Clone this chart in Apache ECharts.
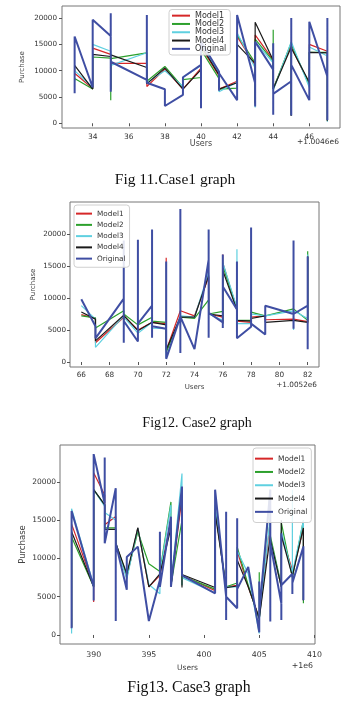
<!DOCTYPE html>
<html>
<head>
<meta charset="utf-8">
<script src="https://cdn.jsdelivr.net/npm/echarts@6/dist/echarts.min.js"></script>
<style>
  html, body { margin: 0; padding: 0; background: #fff; }
  #main { width: 353px; height: 702px; }
</style>
</head>
<body>
<div id="main"></div>
<script>
// Case 1 (users offset +1.0046e6)
const case1Users = [33, 33, 34, 34, 35, 35, 35, 35, 37, 37, 37, 38, 38, 39, 39, 40, 40, 40, 41, 41, 41, 42, 42, 43, 43, 43, 44, 44, 44, 44, 45, 45, 45, 45, 46, 46, 47, 47, 47];
const case1Original = [5700, 16500, 6800, 19700, 16600, 20900, 6000, 11700, 8250, 20600, 7700, 6470, 3280, 5400, 8760, 11100, 2860, 15500, 9800, 6200, 9500, 4400, 20600, 7600, 3170, 15500, 10200, 15200, 1600, 5600, 8000, 20000, 1500, 11100, 4400, 19300, 8900, 20000, 600];
const case1Model1 = [9000, 9500, 6600, 14300, 13100, 12000, 6200, 11400, 11400, 11400, 7000, 10300, 10300, 6500, 6500, 10500, 3000, 14500, 9000, 6500, 6700, 8000, 16500, 11000, 3500, 16800, 12000, 12000, 6500, 6500, 15000, 15000, 1400, 14500, 7500, 15000, 13700, 13700, 400];
const case1Model2 = [8000, 8500, 6500, 12600, 12400, 12000, 4400, 12300, 13400, 13400, 8000, 10800, 10800, 6800, 8300, 8700, 3000, 14000, 8500, 6500, 6600, 6700, 16800, 11500, 3500, 16000, 11800, 17800, 6500, 6800, 15300, 15300, 1500, 15000, 7300, 13500, 13500, 13500, 500];
const case1Model3 = [9500, 10000, 6800, 15000, 13700, 12000, 6200, 11000, 13400, 13400, 7700, 10000, 10000, 7000, 8700, 11000, 2900, 15000, 9500, 6000, 6000, 7800, 17200, 10500, 3000, 15500, 11500, 12000, 6200, 6000, 15500, 15500, 1500, 15500, 6800, 14500, 12800, 12800, 300];
const case1Model4 = [10000, 11000, 6500, 13100, 12700, 12000, 6400, 13000, 10600, 10600, 7500, 10500, 10500, 6500, 6500, 10200, 3000, 14800, 9200, 6500, 6500, 7700, 15000, 11400, 3800, 19200, 12000, 12000, 6500, 6600, 14500, 14500, 1500, 14300, 7800, 13500, 13400, 13400, 500];

// Case 2 (users offset +1.0052e6)
const case2Users = [66, 67, 67, 69, 69, 69, 69, 70, 70, 70, 71, 71, 71, 71, 72, 72, 72, 73, 73, 73, 73, 74, 75, 75, 75, 75, 76, 76, 76, 76, 77, 77, 77, 78, 78, 78, 79, 79, 81, 81, 81, 81, 82, 82, 82];
const case2Original = [9800, 5600, 3700, 9900, 3000, 19000, 6400, 3200, 19100, 6000, 8800, 20700, 3800, 5600, 5200, 15700, 500, 7100, 23900, 1400, 7100, 2000, 16000, 20700, 3800, 7700, 6200, 16800, 5300, 11800, 8200, 15700, 3700, 5500, 21000, 6000, 4300, 8800, 7500, 19000, 5200, 7500, 8800, 16500, 2000];
const case2Model1 = [7400, 6800, 3000, 7000, 6500, 7200, 7000, 5000, 5000, 5000, 6200, 6200, 6200, 6200, 6000, 16300, 1800, 8000, 8000, 7800, 7800, 7200, 13300, 13300, 7500, 7600, 7000, 16800, 6000, 15500, 8200, 8200, 6400, 6200, 7000, 7000, 7200, 6600, 6700, 6700, 6700, 6700, 6300, 16500, 6000];
const case2Model2 = [7200, 6900, 5300, 8000, 6800, 8000, 7500, 5800, 5800, 5800, 7000, 7000, 7000, 6400, 6200, 6200, 1500, 7000, 7000, 7000, 7000, 6800, 9700, 9700, 7500, 7800, 7900, 15500, 6500, 15000, 8300, 8300, 6500, 6500, 7800, 7800, 7200, 7000, 8300, 8300, 8300, 8300, 6500, 17300, 6300];
const case2Model3 = [8800, 6700, 2300, 7200, 6500, 7000, 6800, 4500, 4500, 4500, 6200, 6200, 5300, 5300, 5200, 15500, 600, 7200, 7200, 7000, 7000, 7000, 14000, 14000, 7500, 7300, 6500, 16000, 6000, 15500, 8500, 17600, 6000, 6000, 7500, 7500, 7200, 7000, 8000, 8000, 5000, 8000, 6800, 16800, 6500];
const case2Model4 = [7800, 6700, 3300, 7300, 6500, 7300, 7000, 4900, 4900, 4900, 6200, 6200, 6200, 6000, 5800, 6000, 1900, 7000, 7000, 7000, 7000, 7000, 13500, 13500, 7500, 7700, 7200, 14700, 6000, 14300, 8100, 8100, 6500, 6400, 6800, 6800, 7200, 6200, 6500, 6500, 6500, 6500, 6200, 16500, 6200];

// Case 3 (users offset +1e6)
const case3Users = [388, 388, 390, 390, 390, 391, 391, 391, 392, 392, 392, 393, 393, 394, 395, 396, 396, 396, 397, 397, 398, 398, 398, 401, 401, 402, 402, 402, 402, 403, 403, 403, 404, 405, 405, 405, 406, 406, 406, 407, 407, 407, 407, 408, 408, 408, 409, 409, 409];
const case3Original = [870, 16200, 6300, 4500, 23650, 17200, 23200, 12000, 19200, 1830, 12000, 5900, 10200, 11550, 1830, 7200, 13500, 6300, 15470, 6300, 19400, 7800, 7700, 5450, 19000, 5000, 16100, 1960, 5000, 3500, 15250, 6000, 8900, 350, 7000, 2900, 19000, 1750, 12000, 4140, 13300, 1960, 6500, 8000, 5360, 6800, 11550, 4570, 11600];
const case3Model1 = [1000, 14500, 6500, 4300, 21200, 18300, 18300, 14400, 15500, 12000, 12000, 7500, 7500, 14000, 6300, 7800, 7800, 8000, 15000, 6500, 18000, 6500, 7800, 5800, 16500, 6000, 6000, 6200, 6300, 6500, 11000, 11000, 6300, 2200, 2200, 2200, 15000, 12000, 12500, 6300, 13500, 13000, 13000, 8500, 8000, 8000, 14000, 4500, 13800];
const case3Model2 = [1000, 12800, 6300, 6300, 19000, 17000, 17000, 14000, 14000, 12000, 12000, 7800, 7800, 13500, 9300, 8300, 8300, 8300, 17400, 6500, 15000, 6500, 7700, 6000, 16500, 6300, 6300, 6300, 6500, 6800, 11500, 11500, 6500, 2000, 8200, 2000, 19000, 12000, 13000, 6500, 14700, 14500, 14500, 7500, 7500, 7500, 15000, 4140, 15000];
const case3Model3 = [200, 16500, 6500, 6300, 19000, 16800, 16800, 16000, 15000, 12000, 12000, 7300, 7300, 14000, 6600, 5400, 8000, 8000, 17000, 6500, 21100, 6500, 7500, 5500, 17000, 5600, 5600, 6000, 6300, 6300, 11000, 11000, 8000, 200, 2000, 2000, 15500, 12000, 12500, 6300, 13800, 13500, 13500, 8000, 19000, 8000, 15000, 4500, 14500];
const case3Model4 = [1000, 13500, 6300, 6300, 19000, 17000, 17000, 13800, 13800, 12000, 12000, 8000, 8000, 14000, 6300, 8000, 8000, 8000, 14000, 6300, 19000, 6200, 7900, 6200, 16000, 6200, 6200, 6300, 6300, 6400, 9800, 9800, 6300, 2180, 2180, 2180, 13000, 12000, 12500, 6300, 15000, 13000, 13000, 7700, 7700, 7700, 14000, 4500, 13800];

const seriesNames = ['Model1', 'Model2', 'Model3', 'Model4', 'Original'];
const seriesColors = ['#d62728', '#2ca02c', '#5fd0e0', '#1a1a1a', '#3f4ea3'];
const yTicks = [0, 5000, 10000, 15000, 20000];

const fontFam = 'DejaVu Sans';

const makeSeries = (idx, users, lists) =>
  lists.map((vals, i) => ({
    name: seriesNames[i],
    type: 'line',
    xAxisIndex: idx,
    yAxisIndex: idx,
    symbol: 'none',
    animation: false,
    lineStyle: { color: seriesColors[i], width: i === 4 ? 2 : 1.2 },
    itemStyle: { color: seriesColors[i] },
    data: users.map((u, k) => [u, vals[k]])
  }));

const makeX = (idx, min, max, ticks, fs, margin, gap, nameFs) => ({
  type: 'value', gridIndex: idx, min: min, max: max,
  name: 'Users', nameLocation: 'middle', nameGap: gap, nameMoveOverlap: false,
  nameTextStyle: { fontFamily: fontFam, fontSize: nameFs, color: '#444' },
  axisLine: { show: false },
  axisTick: { show: true, length: 3, lineStyle: { color: '#555' }, customValues: ticks },
  axisLabel: { fontFamily: fontFam, fontSize: fs, color: '#333', margin: margin, customValues: ticks, formatter: v => String(v) },
  splitLine: { show: false }
});

const makeY = (idx, min, max, fs, margin, gap, nameFs) => ({
  type: 'value', gridIndex: idx, min: min, max: max,
  name: 'Purchase', nameLocation: 'middle', nameGap: gap, nameMoveOverlap: false,
  nameTextStyle: { fontFamily: fontFam, fontSize: nameFs, color: '#444' },
  axisLine: { show: false },
  axisTick: { show: true, length: 3, lineStyle: { color: '#555' }, customValues: yTicks },
  axisLabel: { fontFamily: fontFam, fontSize: fs, color: '#333', margin: margin, customValues: yTicks, formatter: v => String(v) },
  splitLine: { show: false }
});

const makeLegend = (left, top, pad, itemW, spacing, fs) => ({
  orient: 'vertical', left: left, top: top, padding: pad,
  itemWidth: itemW, itemHeight: 2, itemGap: 0, icon: 'rect',
  borderColor: '#d0d0d0', borderWidth: 1, borderRadius: 3,
  backgroundColor: 'rgba(255,255,255,0.85)',
  textStyle: { fontFamily: fontFam, fontSize: fs, color: '#333', lineHeight: spacing },
  data: seriesNames
});

const chart = echarts.init(document.getElementById('main'));

chart.setOption({
  backgroundColor: '#fff',
  textStyle: { fontFamily: fontFam },
  grid: [
    { left: 62, top: 6, width: 278, height: 122, show: true, borderColor: '#777', borderWidth: 1, backgroundColor: '#fff' },
    { left: 70, top: 202, width: 249, height: 165, show: true, borderColor: '#777', borderWidth: 1, backgroundColor: '#fff' },
    { left: 60, top: 445, width: 255, height: 199, show: true, borderColor: '#777', borderWidth: 1, backgroundColor: '#fff' }
  ],
  xAxis: [
    makeX(0, 32.3, 47.7, [34, 36, 38, 40, 42, 44, 46], 7.5, 5, 12, 8),
    makeX(1, 65.2, 82.8, [66, 68, 70, 72, 74, 76, 78, 80, 82], 7.3, 5, 17, 7),
    makeX(2, 386.95, 410.05, [390, 395, 400, 405, 410], 7.8, 7, 20, 7.5)
  ],
  yAxis: [
    makeY(0, -900, 22300, 7.2, 5, 36, 7),
    makeY(1, -780, 25000, 7.2, 4, 33, 7),
    makeY(2, -1180, 24840, 7.5, 4, 33, 8.5)
  ],
  legend: [
    makeLegend(169, 9.5, [2, 4, 2, 3], 18, 8.3, 8),
    makeLegend(74, 205, [3, 4, 3, 2], 16, 11.25, 7.3),
    makeLegend(253, 448, [4, 4, 4, 2], 18, 13.3, 7.5)
  ],
  graphic: [
    { type: 'text', right: 353 - 339, top: 138.5, style: { text: '+1.0046e6', fontFamily: fontFam, fontSize: 7.5, fill: '#333' } },
    { type: 'text', right: 353 - 317, top: 382, style: { text: '+1.0052e6', fontFamily: fontFam, fontSize: 7.3, fill: '#333' } },
    { type: 'text', right: 353 - 313, top: 662, style: { text: '+1e6', fontFamily: fontFam, fontSize: 7.8, fill: '#333' } },
    { type: 'text', x: 175, y: 180, style: { text: 'Fig 11.Case1 graph', fontFamily: 'Liberation Serif', fontSize: 15.5, fill: '#111', align: 'center', verticalAlign: 'middle' } },
    { type: 'text', x: 197, y: 423, style: { text: 'Fig12. Case2 graph', fontFamily: 'Liberation Serif', fontSize: 14, fill: '#111', align: 'center', verticalAlign: 'middle' } },
    { type: 'text', x: 189, y: 688, style: { text: 'Fig13. Case3 graph', fontFamily: 'Liberation Serif', fontSize: 15.8, fill: '#111', align: 'center', verticalAlign: 'middle' } }
  ],
  series: [
    ...makeSeries(0, case1Users, [case1Model1, case1Model2, case1Model3, case1Model4, case1Original]),
    ...makeSeries(1, case2Users, [case2Model1, case2Model2, case2Model3, case2Model4, case2Original]),
    ...makeSeries(2, case3Users, [case3Model1, case3Model2, case3Model3, case3Model4, case3Original])
  ]
});
</script>
</body>
</html>
